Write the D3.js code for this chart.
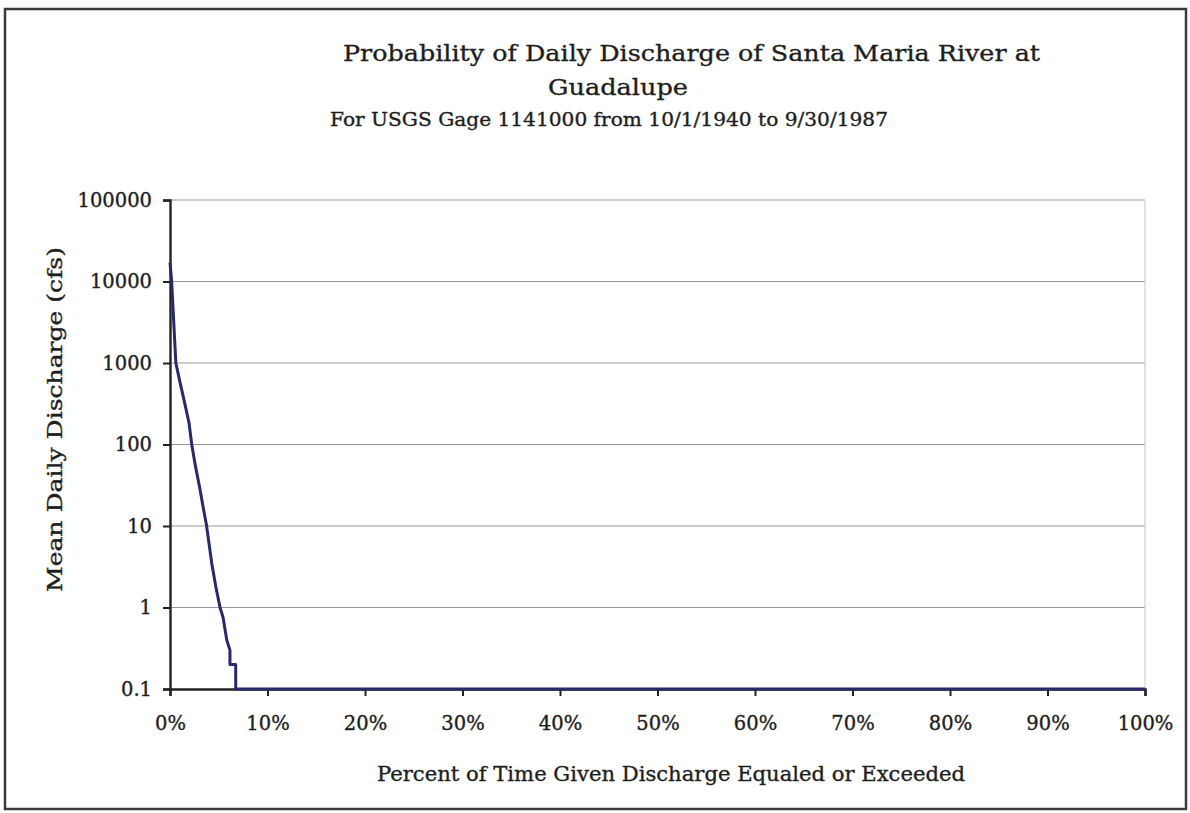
<!DOCTYPE html>
<html>
<head>
<meta charset="utf-8">
<script src="https://cdn.jsdelivr.net/npm/d3@7"></script>
<style>
  html, body { margin: 0; padding: 0; background: #fff; }
  svg { display: block; }
  text { font-family: "DejaVu Serif", "Liberation Serif", serif; fill: #1e1e1e; stroke: #1e1e1e; stroke-width: 0.35px; }
</style>
</head>
<body>
<svg id="chart" width="1190" height="813"></svg>
<script>
// ---- data ----
const percentExceeded = [0, 0.17, 0.6, 1.0, 1.44, 1.95, 2.23, 2.6, 3.08, 3.4, 3.74, 4.28, 4.7, 5.13, 5.44, 5.82, 6.15, 6.15, 6.74, 6.74, 100];
const dischargeCfs   = [17000, 10000, 1000, 600, 350, 184, 100, 55, 28, 17, 10.3, 3.5, 1.8, 1.0, 0.76, 0.4, 0.3, 0.2, 0.2, 0.1, 0.1];
const yTickValues = [0.1, 1, 10, 100, 1000, 10000, 100000];
const yTickLabels = ["0.1", "1", "10", "100", "1000", "10000", "100000"];
const xTickValues = [0, 10, 20, 30, 40, 50, 60, 70, 80, 90, 100];
const titleLines = ["Probability of Daily Discharge of Santa Maria River at", "Guadalupe"];
const subtitle = "For USGS Gage 1141000 from 10/1/1940 to 9/30/1987";
const xAxisTitle = "Percent of Time Given Discharge Equaled or Exceeded";
const yAxisTitle = "Mean Daily Discharge (cfs)";

(function () {
const svg = d3.select("#chart");
const pLeft = 170, pRight = 1145, pTop = 200, pBottom = 689;

const x = d3.scaleLinear().domain([0, 100]).range([pLeft, pRight]);
const y = d3.scaleLog().domain([0.1, 100000]).range([pBottom, pTop]);

// outer frame
svg.append("rect").attr("x", 5).attr("y", 9).attr("width", 1181).attr("height", 800)
  .attr("fill", "none").attr("stroke", "#3a3a3a").attr("stroke-width", 2.5);

// gridlines
svg.append("g").selectAll("line").data(yTickValues.filter(v => v > 0.1)).join("line")
  .attr("x1", pLeft).attr("x2", pRight)
  .attr("y1", d => y(d)).attr("y2", d => y(d))
  .attr("stroke", "#9a9a9a").attr("stroke-width", 1);
// right plot edge
svg.append("line").attr("x1", pRight).attr("x2", pRight).attr("y1", pTop).attr("y2", pBottom)
  .attr("stroke", "#c8c8c8").attr("stroke-width", 1);

const tickFont = sel => sel.style("font-family", "'DejaVu Serif', serif").style("font-size", "19.5px")
  .attr("fill", "#1e1e1e").attr("stroke", "#1e1e1e").attr("stroke-width", 0.35);

// y axis
const yAxis = d3.axisLeft(y).tickValues(yTickValues)
  .tickFormat((d, i) => yTickLabels[i]).tickSize(7).tickPadding(11);
const gy = svg.append("g").attr("transform", `translate(${pLeft},0)`).call(yAxis);
gy.select(".domain").attr("stroke", "#222").attr("stroke-width", 2.4);
gy.selectAll(".tick line").attr("stroke", "#222").attr("stroke-width", 2);
gy.selectAll(".tick text").call(tickFont);

// x axis
const xAxis = d3.axisBottom(x).tickValues(xTickValues)
  .tickFormat(d => d + "%").tickSize(7).tickPadding(20);
const gx = svg.append("g").attr("transform", `translate(0,${pBottom})`).call(xAxis);
gx.select(".domain").attr("stroke", "#222").attr("stroke-width", 2.4);
gx.selectAll(".tick line").attr("stroke", "#222").attr("stroke-width", 2);
gx.selectAll(".tick text").call(tickFont);

// data line
const pts = percentExceeded.map((p, i) => [p, dischargeCfs[i]]);
svg.append("path").datum(pts)
  .attr("fill", "none").attr("stroke", "#27296b").attr("stroke-width", 3)
  .attr("stroke-linejoin", "round")
  .attr("d", d3.line().x(d => x(d[0])).y(d => y(d[1])));

// titles
svg.append("text").attr("x", 343).attr("y", 61).attr("textLength", 697).attr("lengthAdjust", "spacingAndGlyphs")
  .style("font-size", "23px").text(titleLines[0]);
svg.append("text").attr("x", 548).attr("y", 95).attr("textLength", 140).attr("lengthAdjust", "spacingAndGlyphs")
  .style("font-size", "23px").text(titleLines[1]);
svg.append("text").attr("x", 330).attr("y", 126).attr("textLength", 558).attr("lengthAdjust", "spacingAndGlyphs")
  .style("font-size", "18.5px").text(subtitle);

// axis titles
svg.append("text").attr("x", 377).attr("y", 781).attr("textLength", 588).attr("lengthAdjust", "spacingAndGlyphs")
  .style("font-size", "20px").text(xAxisTitle);
svg.append("text").attr("transform", "translate(62,592) rotate(-90)")
  .attr("textLength", 345).attr("lengthAdjust", "spacingAndGlyphs")
  .style("font-size", "20px").text(yAxisTitle);
})();
</script>
</body>
</html>
